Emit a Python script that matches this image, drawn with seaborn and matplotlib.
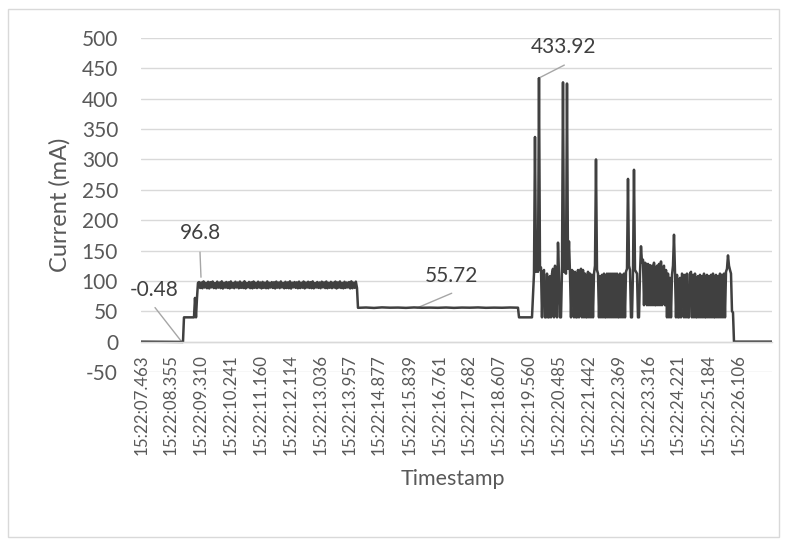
import numpy as np
import pandas as pd
import matplotlib
matplotlib.use("Agg")
import matplotlib.pyplot as plt
from matplotlib.patches import Rectangle
import seaborn as sns

# ---------------- data (seconds within 15:22, current in mA) ----------------
tick_labels = ["15:22:07.463", "15:22:08.355", "15:22:09.310", "15:22:10.241",
               "15:22:11.160", "15:22:12.114", "15:22:13.036", "15:22:13.957",
               "15:22:14.877", "15:22:15.839", "15:22:16.761", "15:22:17.682",
               "15:22:18.607", "15:22:19.560", "15:22:20.485", "15:22:21.442",
               "15:22:22.369", "15:22:23.316", "15:22:24.221", "15:22:25.184",
               "15:22:26.106"]
y_ticks = [-50, 0, 50, 100, 150, 200, 250, 300, 350, 400, 450, 500]

startup_t = [7.432, 8.745, 8.776, 9.089, 9.121, 9.152, 9.183, 9.214]
startup_ma = [0.0, -0.48, 40.0, 40.0, 72.0, 40.0, 72.0, 96.8]

band_span = (9.246, 14.187)
band_ma = [
    98.1, 88.3, 97.4, 87.9, 99.2, 89.1, 96.8, 88.0, 98.5, 87.6,
    97.9, 89.4, 99.0, 88.2, 96.5, 87.8, 98.8, 88.9, 97.2, 88.1,
    99.3, 87.5, 96.9, 89.0, 98.2, 88.4, 97.6, 87.7, 99.1, 88.8,
    96.7, 88.0, 98.6, 89.2, 97.3, 87.9, 98.9, 88.5, 97.0, 88.3,
    99.4, 87.6, 96.6, 89.3, 98.3, 88.1, 97.7, 87.8, 99.0, 88.7,
    96.9, 88.2, 98.7, 89.0, 97.4, 87.7, 98.4, 88.6, 97.1, 88.0,
    99.2, 87.9, 96.8, 89.1, 98.0, 88.4, 97.8, 87.6, 98.9, 88.9,
    97.2, 88.1, 99.1, 89.2, 96.7, 87.8, 98.5, 88.3, 97.5, 88.0,
    99.3, 87.5, 97.0, 89.4, 98.1, 88.6, 97.6, 87.9, 98.8, 88.2,
    96.9, 88.8, 99.0, 87.7, 97.3, 89.0, 98.6, 88.4, 97.9, 88.1,
    99.2, 87.8, 96.6, 89.1, 98.2, 88.5, 97.4, 88.0, 98.7, 89.3,
    97.6, 88.2, 99.0, 87.9, 96.8, 88.7, 98.4, 88.1, 97.2, 89.0,
    98.9, 87.6, 97.5, 88.9, 99.1, 88.3, 96.7, 87.8, 98.6, 88.5,
    97.3, 89.2, 98.1, 87.7, 99.3, 88.0, 97.0, 88.6, 98.8, 88.4,
]

idle_span = (14.218, 19.222)
idle_ma = [55.7, 56.2, 55.5, 56.4, 55.9, 56.1, 55.6, 56.3, 55.8, 56.0,
           55.72, 56.2, 55.6, 56.1, 55.9, 56.3, 55.7, 56.0, 55.8, 56.2, 55.9]

low_t = [19.254, 19.629]
low_ma = [40.0, 40.0]

burst_span = (19.660, 25.946)
burst_ma = [
    40, 75, 112, 337, 115, 118, 115, 433.92, 118, 122,
    40, 115, 118, 40, 40, 112, 40, 40, 108, 40,
    112, 120, 40, 125, 115, 40, 163, 112, 40, 40,
    118, 427, 115, 115, 112, 425, 120, 165, 112, 40,
    118, 115, 40, 115, 40, 40, 118, 40, 115, 120,
    40, 118, 40, 112, 40, 40, 115, 40, 112, 40,
    110, 40, 112, 125, 300, 118, 112, 40, 108, 40,
    110, 40, 112, 40, 40, 112, 40, 112, 40, 112,
    40, 112, 40, 112, 40, 112, 40, 40, 112, 40,
    110, 40, 112, 40, 115, 120, 268, 125, 118, 40,
    40, 115, 283, 118, 115, 112, 40, 40, 112, 157,
    130, 135, 60, 130, 128, 60, 128, 60, 126, 60,
    125, 60, 130, 60, 60, 125, 60, 128, 60, 132,
    60, 120, 125, 60, 118, 40, 112, 40, 105, 40,
    110, 125, 176, 115, 40, 110, 40, 40, 105, 40,
    112, 108, 40, 110, 40, 112, 40, 40, 112, 115,
    40, 110, 40, 112, 40, 40, 108, 40, 110, 40,
    108, 40, 112, 40, 40, 110, 40, 108, 40, 110,
    40, 112, 40, 40, 110, 40, 108, 40, 112, 40,
    110, 40, 112, 40, 115, 120, 142, 125, 118, 112,
    50, 48,
]

off_t = [25.977, 27.166]
off_ma = [0.0, 0.0]

# ---------------- assemble series ----------------
time_s = np.concatenate([
    startup_t,
    np.linspace(*band_span, len(band_ma)),
    np.linspace(*idle_span, len(idle_ma)),
    low_t,
    np.linspace(*burst_span, len(burst_ma)),
    off_t,
])
current = np.concatenate([startup_ma, band_ma, idle_ma, low_ma, burst_ma, off_ma]).astype(float)
df = pd.DataFrame({"Timestamp": time_s, "Current (mA)": current})
tick_pos = [float(s.split(":")[2]) for s in tick_labels]

# ---------------- style ----------------
sns.set_theme(style="white")
plt.rcParams["font.family"] = ["Lato", "DejaVu Sans"]
plt.rcParams["axes.unicode_minus"] = False
TXT = "#595959"
DARK = "#404040"

fig = plt.figure(figsize=(7.87, 5.45), dpi=100)
ax = fig.add_axes([141 / 787, (545 - 372) / 545, 631 / 787, 334 / 545])

sns.lineplot(data=df, x="Timestamp", y="Current (mA)", ax=ax, color=DARK,
             linewidth=1.8, sort=False, estimator=None)

for s in ["top", "right", "left"]:
    ax.spines[s].set_visible(False)
ax.spines["bottom"].set_position(("data", 0))
ax.spines["bottom"].set_color("#d9d9d9")
ax.spines["bottom"].set_linewidth(1.0)

ax.set_xlim(7.432, 27.166)
ax.set_ylim(-50, 500)
ax.set_yticks(y_ticks)
ax.set_xticks(tick_pos)
ax.set_xticklabels(tick_labels)
ax.grid(axis="y", color="#d9d9d9", linewidth=1.0)
ax.grid(axis="x", visible=False)
ax.set_axisbelow(True)
ax.tick_params(axis="x", length=0, pad=9, labelsize=12.2, labelcolor=TXT,
               labelrotation=90)
ax.tick_params(axis="y", length=0, pad=16.5, labelsize=15, labelcolor=TXT)

ax.set_xlabel("Timestamp", fontsize=15.5, color=TXT, va="center")
ax.xaxis.set_label_coords((453 - 141) / 631, (372 - 479) / 334)
ax.set_ylabel("Current (mA)", fontsize=17, color=TXT, va="center")
ax.yaxis.set_label_coords((60 - 141) / 631, (372 - 205) / 334)

# data labels with leader lines
labels = [
    ("-0.48", (7.832, 85.0), [(7.870, 56.1), (8.714, -0.8)]),
    ("96.8", (9.293, 178.2), [(9.277, 147.4), (9.308, 106.1)]),
    ("55.72", (17.142, 107.3), [(17.149, 79.7), (16.07, 55.6)]),
    ("433.92", (20.661, 486.0), [(20.671, 455.4), (19.857, 433.5)]),
]
for txt, (tx, ty), seg in labels:
    ax.plot([seg[0][0], seg[1][0]], [seg[0][1], seg[1][1]], color="#a6a6a6",
            linewidth=1.0, zorder=1)
    ax.text(tx, ty, txt, ha="center", va="center", fontsize=15, color=DARK)

fig.patches.append(Rectangle((8 / 787, 8 / 545), 771 / 787, 528 / 545,
                             transform=fig.transFigure, fill=False,
                             edgecolor="#d9d9d9", linewidth=1.0))

fig.savefig("out.png", dpi=100)
